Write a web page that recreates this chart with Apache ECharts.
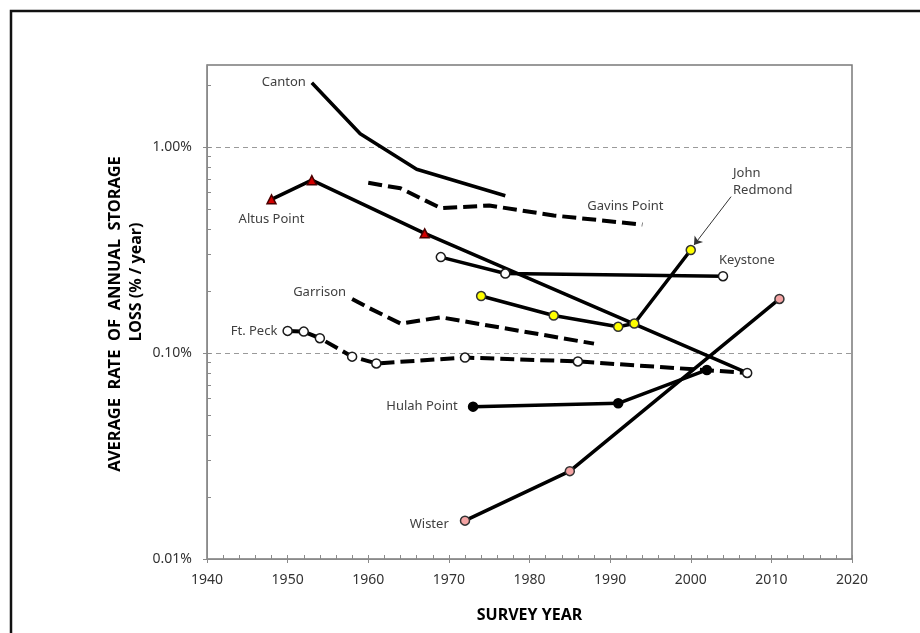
<!DOCTYPE html>
<html>
<head>
<meta charset="utf-8">
<script src="https://cdn.jsdelivr.net/npm/echarts@6/dist/echarts.min.js"></script>
<style>html,body{margin:0;padding:0;background:#fff}#c{width:920px;height:633px}</style>
</head>
<body>
<div id="c"></div>
<script>
// ---- data (survey year, average annual storage loss in % / year) ----
const xTicks = [1940, 1950, 1960, 1970, 1980, 1990, 2000, 2010, 2020];
const yTickLabels = ['0.01%', '0.10%', '1.00%'];

const cantonYears = [1953, 1959, 1966, 1977];
const cantonLoss  = [2.05, 1.16, 0.78, 0.58];

const gavinsYears = [1960, 1964, 1969, 1975, 1983, 1994];
const gavinsLoss  = [0.67, 0.63, 0.505, 0.52, 0.465, 0.42];

const altusYears = [1948, 1953, 1967, 2007];
const altusLoss  = [0.557, 0.69, 0.381, 0.080];

const keystoneYears = [1969, 1977, 2004];
const keystoneLoss  = [0.292, 0.243, 0.236];

const garrisonYears = [1958, 1960, 1964, 1969, 1988];
const garrisonLoss  = [0.183, 0.166, 0.139, 0.149, 0.111];

const redmondYears = [1974, 1983, 1991, 1993, 2000];
const redmondLoss  = [0.189, 0.152, 0.134, 0.139, 0.316];

const hulahYears = [1973, 1991, 2002];
const hulahLoss  = [0.0549, 0.057, 0.0827];

const wisterYears = [1972, 1985, 2011];
const wisterLoss  = [0.01535, 0.0267, 0.183];

const ftPeckYears = [1950, 1952, 1954, 1958, 1961, 1972, 1986, 2007];
const ftPeckLoss  = [0.128, 0.127, 0.118, 0.096, 0.089, 0.095, 0.091, 0.080];

// arrow from the "John Redmond" label to its 2000 survey
const redmondArrowFrom = [2005, 0.574];
const redmondArrowTo   = [2000.4, 0.334];

// ---- styles ----
const FONT = 'Noto Sans';
const seriesDefs = [
  {name:'Canton', years:cantonYears, loss:cantonLoss, dash:false, symbol:'circle', size:0, fill:'#000', border:'#000',
   labelIdx:0, pos:'left', dist:6, offset:[0,0]},
  {name:'Gavins Point', years:gavinsYears, loss:gavinsLoss, dash:true, symbol:'circle', size:0, fill:'#000', border:'#000',
   labelIdx:5, pos:'top', dist:10, offset:[-17,0]},
  {name:'Altus Point', years:altusYears, loss:altusLoss, dash:false, symbol:'triangle', size:9, fill:'#d40000', border:'#4a0000',
   labelIdx:0, pos:'bottom', dist:6, offset:[0,0], hideIdx:3},
  {name:'Keystone', years:keystoneYears, loss:keystoneLoss, dash:false, symbol:'circle', size:9, fill:'#fff', border:'#1a1a1a',
   labelIdx:2, pos:'top', dist:2, offset:[24,0]},
  {name:'Garrison', years:garrisonYears, loss:garrisonLoss, dash:true, symbol:'circle', size:0, fill:'#000', border:'#000',
   labelIdx:0, pos:'left', dist:6, offset:[0,-7]},
  {name:'John\nRedmond', years:redmondYears, loss:redmondLoss, dash:false, symbol:'circle', size:9, fill:'#ffff00', border:'#333',
   labelIdx:4, pos:'right', dist:37, offset:[0,-68], align:'left', arrow:true},
  {name:'Hulah Point', years:hulahYears, loss:hulahLoss, dash:false, symbol:'circle', size:9, fill:'#000', border:'#000',
   labelIdx:0, pos:'left', dist:10, offset:[0,0]},
  {name:'Wister', years:wisterYears, loss:wisterLoss, dash:false, symbol:'circle', size:9, fill:'#f4a4a4', border:'#333',
   labelIdx:0, pos:'left', dist:11, offset:[0,4]},
  {name:'Ft. Peck', years:ftPeckYears, loss:ftPeckLoss, dash:true, symbol:'circle', size:9, fill:'#fff', border:'#1a1a1a',
   labelIdx:0, pos:'left', dist:5, offset:[0,0]}
];

const series = seriesDefs.map(d => {
  const data = d.years.map((yr, i) => {
    const item = {value: [yr, d.loss[i]]};
    if (i === d.hideIdx) item.symbolSize = 0;
    if (i === d.labelIdx) {
      item.label = {
        show: true, formatter: d.name, position: d.pos, distance: d.dist, offset: d.offset,
        color: '#404040', fontFamily: FONT, fontSize: 13, lineHeight: 17, align: d.align
      };
    }
    return item;
  });
  const s = {
    type: 'line', name: d.name, xAxisIndex: 0, yAxisIndex: 0,
    data: data, symbol: d.symbol, symbolSize: d.size, showSymbol: true,
    lineStyle: {color: '#000', width: d.dash ? 4 : 3.5, type: d.dash ? [14, 6] : 'solid', cap: 'butt'},
    itemStyle: {color: d.fill, borderColor: d.border, borderWidth: 1.5},
    label: {show: false},
    emphasis: {disabled: true},
    animation: false, silent: true, z: 3
  };
  if (d.arrow) {
    s.markLine = {
      silent: true, animation: false, symbol: ['none', 'arrow'], symbolSize: 8,
      label: {show: false},
      lineStyle: {color: '#333', width: 1, type: 'solid'},
      data: [[{coord: redmondArrowFrom}, {coord: redmondArrowTo}]]
    };
  }
  return s;
});

const isPow10 = v => Math.abs(Math.log10(v) - Math.round(Math.log10(v))) < 1e-6;
const yMinorLog = [];
[-2, -1, 0].forEach(e => { for (let k = 1; k <= 9; k++) { const v = Math.log10(k) + e; if (v <= Math.log10(2.5) + 1e-9) yMinorLog.push(v); } });

const gridRect = {left: 207, top: 65, right: 68, bottom: 74};
const chart = echarts.init(document.getElementById('c'), null, {renderer: 'canvas'});
chart.setOption({
  animation: false,
  backgroundColor: '#fff',
  grid: [
    Object.assign({show: true, borderColor: '#7a7a7a', borderWidth: 1.5, backgroundColor: 'transparent'}, gridRect),
    Object.assign({}, gridRect),
    Object.assign({}, gridRect)
  ],
  xAxis: [
    {gridIndex: 0, type: 'value', min: xTicks[0], max: xTicks[xTicks.length - 1], interval: 10,
     axisLine: {show: true, onZero: false, lineStyle: {color: '#8a8a8a', width: 1}},
     axisTick: {show: true, inside: false, length: 4, lineStyle: {color: '#8a8a8a'}},
     axisLabel: {color: '#333', fontFamily: FONT, fontSize: 14, margin: 14, formatter: v => String(v)},
     splitLine: {show: false},
     name: 'SURVEY YEAR', nameLocation: 'middle', nameGap: 48,
     nameTextStyle: {color: '#000', fontFamily: FONT, fontSize: 16, fontWeight: 'bold'}},
    {gridIndex: 1, type: 'value', min: 1940, max: 2020, interval: 2, position: 'bottom',
     axisLine: {show: false, onZero: false}, axisTick: {show: true, inside: true, length: 4, lineStyle: {color: '#8a8a8a'}},
     axisLabel: {show: false}, splitLine: {show: false}},
    {gridIndex: 2, type: 'value', min: 0, max: 1, show: false, axisLine: {onZero: false}}
  ],
  yAxis: [
    {gridIndex: 0, type: 'log', logBase: 10, min: 0.01, max: 2.5,
     axisLine: {show: true, onZero: false, lineStyle: {color: '#8a8a8a', width: 1}},
     axisTick: {show: false},
     axisLabel: {color: '#333', fontFamily: FONT, fontSize: 14, margin: 15,
       formatter: v => isPow10(v) ? yTickLabels[Math.round(Math.log10(v)) + 2] : ''},
     splitLine: {show: true, lineStyle: {color: '#9a9a9a', width: 1, type: [5, 4]}},
     minorTick: {show: false}, minorSplitLine: {show: false}},
    {gridIndex: 1, type: 'value', min: -2, max: Math.log10(2.5), position: 'left',
     axisLine: {show: false, onZero: false},
     axisTick: {show: true, inside: true, length: 4, customValues: yMinorLog, lineStyle: {color: '#8a8a8a'}},
     axisLabel: {show: false}, splitLine: {show: false}},
    {gridIndex: 2, type: 'value', min: -2, max: Math.log10(2.5), position: 'left',
     axisLine: {show: false, onZero: false},
     axisTick: {show: true, inside: false, length: 4, customValues: [-2, -1, 0], lineStyle: {color: '#8a8a8a'}},
     axisLabel: {show: false}, splitLine: {show: false}}
  ],
  graphic: [
    {type: 'rect', shape: {x: 11, y: 11, width: 1200, height: 1200}, style: {fill: 'none', stroke: '#111', lineWidth: 2.5}, silent: true, z: 100},
    {type: 'text', x: 115, y: 314, rotation: Math.PI / 2, silent: true,
     style: {text: 'AVERAGE  RATE  OF  ANNUAL  STORAGE', fill: '#000', font: 'bold 16.5px "Noto Sans"', align: 'center', verticalAlign: 'middle'}},
    {type: 'text', x: 136, y: 282, rotation: Math.PI / 2, silent: true,
     style: {text: 'LOSS (% / year)', fill: '#000', font: 'bold 16px "Noto Sans"', align: 'center', verticalAlign: 'middle'}}
  ],
  series: series
});
</script>
</body>
</html>
